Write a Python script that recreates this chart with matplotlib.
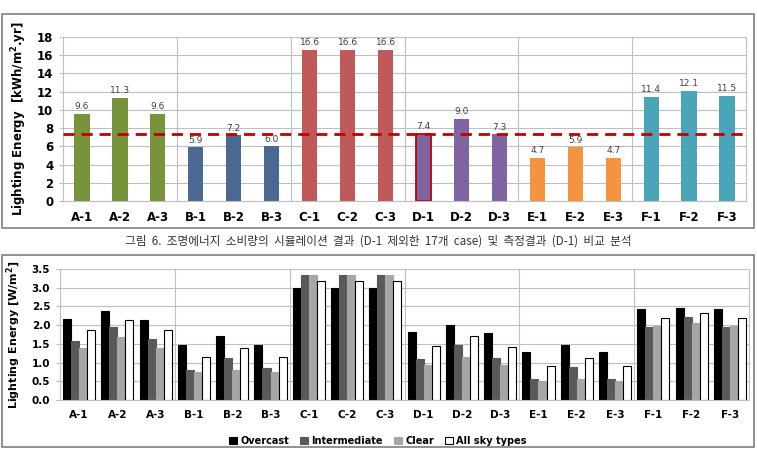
import numpy as np
import matplotlib
matplotlib.use('Agg')
import matplotlib.pyplot as plt
from matplotlib.patches import Rectangle

plt.rcParams['font.family'] = ['DejaVu Sans']

# data
cases = ['A-1', 'A-2', 'A-3', 'B-1', 'B-2', 'B-3', 'C-1', 'C-2', 'C-3',
         'D-1', 'D-2', 'D-3', 'E-1', 'E-2', 'E-3', 'F-1', 'F-2', 'F-3']
annual = [9.6, 11.3, 9.6, 5.9, 7.2, 6.0, 16.6, 16.6, 16.6,
          7.4, 9.0, 7.3, 4.7, 5.9, 4.7, 11.4, 12.1, 11.5]
group_colors = ['#77933C', '#4A6890', '#C0595A', '#8064A2', '#F59440', '#4BA5B8']
measured = 7.4

overcast = [2.16, 2.37, 2.14, 1.48, 1.70, 1.48, 2.99, 2.99, 2.99,
            1.81, 2.00, 1.78, 1.27, 1.46, 1.27, 2.42, 2.45, 2.42]
intermediate = [1.57, 1.96, 1.63, 0.80, 1.13, 0.86, 3.33, 3.33, 3.33,
                1.09, 1.46, 1.11, 0.55, 0.88, 0.57, 1.94, 2.21, 1.96]
clear = [1.38, 1.69, 1.38, 0.75, 0.80, 0.75, 3.33, 3.33, 3.33,
         0.94, 1.16, 0.94, 0.51, 0.55, 0.52, 1.98, 2.06, 1.98]
all_sky = [1.86, 2.14, 1.86, 1.15, 1.39, 1.15, 3.18, 3.18, 3.18,
           1.44, 1.71, 1.42, 0.91, 1.13, 0.91, 2.19, 2.33, 2.19]
sky_names = ['Overcast', 'Intermediate', 'Clear', 'All sky types']
sky_colors = ['#000000', '#595959', '#A6A6A6', '#FFFFFF']

caption = '그림  6.  조명에너지  소비량의  시뮬레이션  결과  (D-1  제외한  17개  case)  및  측정결과  (D-1)  비교  분석'

x = np.arange(len(cases))
grid_c = '#BFBFBF'

fig = plt.figure(figsize=(7.57, 4.49), dpi=100)
W, H = 757, 449

# frames around the two panels
fig.patches.append(Rectangle((2 / W, 1 - 228 / H), 752 / W, 214 / H, transform=fig.transFigure,
                             fill=False, edgecolor='#7F7F7F', lw=1.2))
fig.patches.append(Rectangle((2 / W, 1 - 447 / H), 752 / W, 192 / H, transform=fig.transFigure,
                             fill=False, edgecolor='#7F7F7F', lw=1.2))


def style_axes(ax, ymax, ystep, fmt, fs):
    ax.set_xlim(-0.5, len(cases) - 0.5)
    ax.set_ylim(0, ymax)
    ticks = np.arange(0, ymax + ystep / 2, ystep)
    ax.set_yticks(ticks)
    ax.set_yticklabels([fmt % v for v in ticks], fontsize=fs, fontweight='bold')
    ax.set_xticks(x)
    ax.set_xticklabels(cases, fontsize=fs, fontweight='bold')
    ax.tick_params(axis='x', length=0, pad=7)
    ax.tick_params(axis='y', length=3, color=grid_c, pad=4)
    ax.yaxis.grid(True, color=grid_c, lw=0.8)
    ax.set_axisbelow(True)
    for b in [2.5, 5.5, 8.5, 11.5, 14.5]:
        ax.axvline(b, color=grid_c, lw=0.8, zorder=0)
    ax.spines['top'].set_visible(False)
    for s in ['left', 'bottom', 'right']:
        ax.spines[s].set_color(grid_c)
        ax.spines[s].set_linewidth(0.8)


# top panel
ax1 = fig.add_axes([63 / W, 1 - 201 / H, 683 / W, 164 / H])
colors = [group_colors[i // 3] for i in range(len(cases))]
bars = ax1.bar(x, annual, width=0.4, color=colors, zorder=2)
bars[9].set_edgecolor('#C00000')
bars[9].set_linewidth(1.3)
for xi, v in zip(x, annual):
    ax1.text(xi, v + 0.3, '%.1f' % v, ha='center', va='bottom', fontsize=6.5, color='#404040')
ax1.axhline(measured, color='#C00000', ls=(0, (4, 2.5)), lw=2, zorder=3)
style_axes(ax1, 18, 2, '%d', 8.5)
ax1.set_ylabel('Lighting Energy  [kWh/m$^\\mathbf{2}$.yr]', fontsize=8.5, fontweight='bold', labelpad=6)

fig.text(378 / W, 1 - 241 / H, caption, ha='center', va='center', fontsize=8.4, color='#333333',
         family=['Noto Sans CJK KR', 'DejaVu Sans'])

# bottom panel
ax2 = fig.add_axes([60 / W, 1 - 400 / H, 689 / W, 131 / H])
bw = 0.21
series = [overcast, intermediate, clear, all_sky]
for k, (vals, c, name) in enumerate(zip(series, sky_colors, sky_names)):
    ax2.bar(x + (k - 1.5) * bw, vals, width=bw, color=c, edgecolor='black' if k == 3 else c,
            lw=0.8, label=name, zorder=2)
style_axes(ax2, 3.5, 0.5, '%.1f', 7.5)
ax2.set_ylabel('Lighting Energy [W/m$^\\mathbf{2}$]', fontsize=8, fontweight='bold', labelpad=6)
ax2.legend(loc='center', bbox_to_anchor=(378 / W, 1 - 441 / H), bbox_transform=fig.transFigure,
           ncol=4, frameon=False, handlelength=0.8, handleheight=0.8,
           handletextpad=0.3, columnspacing=1.2, prop={'weight': 'bold', 'size': 7})

fig.savefig('out.png', dpi=100)
